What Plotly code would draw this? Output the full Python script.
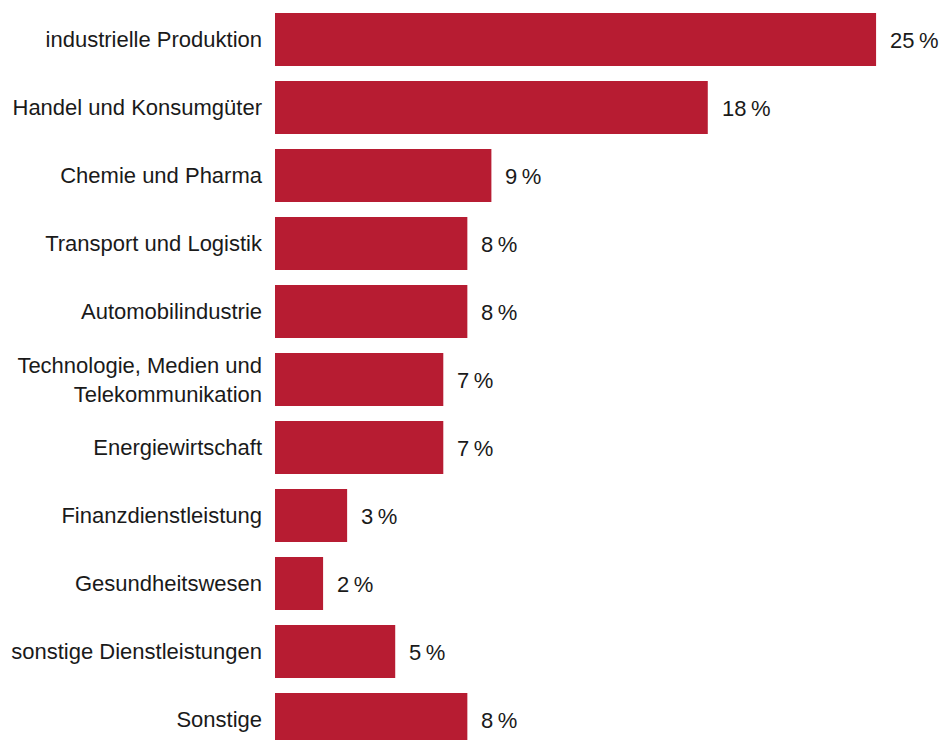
import plotly.graph_objects as go

# Branchenverteilung (Anteil in Prozent)
branchen = [
    "industrielle Produktion",
    "Handel und Konsumgüter",
    "Chemie und Pharma",
    "Transport und Logistik",
    "Automobilindustrie",
    "Technologie, Medien und<br>Telekommunikation",
    "Energiewirtschaft",
    "Finanzdienstleistung",
    "Gesundheitswesen",
    "sonstige Dienstleistungen",
    "Sonstige",
]
anteile = [25, 18, 9, 8, 8, 7, 7, 3, 2, 5, 8]
wert_labels = [f"{v}\u202f%" for v in anteile]

BAR_COLOR = "#B71C32"
TEXT_COLOR = "#1a1a1a"
FONT = "Liberation Sans, Arial, sans-serif"
FONT_SIZE = 22

fig = go.Figure(
    go.Bar(
        x=anteile,
        y=branchen,
        orientation="h",
        marker=dict(color=BAR_COLOR, line=dict(width=0)),
        hoverinfo="skip",
    )
)

for name, v, label in zip(branchen, anteile, wert_labels):
    fig.add_annotation(
        x=v, y=name, text=label, showarrow=False,
        xanchor="left", yanchor="middle", xshift=12, yshift=-1,
        font=dict(size=FONT_SIZE, color=TEXT_COLOR, family=FONT),
    )

fig.update_layout(
    width=941, height=740,
    margin=dict(l=275, r=0, t=0, b=0),
    paper_bgcolor="white", plot_bgcolor="white",
    bargap=0.22,
    showlegend=False,
    font=dict(family=FONT, size=FONT_SIZE, color=TEXT_COLOR),
)
fig.update_xaxes(range=[0, 27.7], visible=False, fixedrange=True)
fig.update_yaxes(
    range=[10.301, -0.581],
    showgrid=False, zeroline=False, showline=False,
    ticks="", ticklabelstandoff=12,
    tickfont=dict(size=FONT_SIZE, color=TEXT_COLOR, family=FONT),
    fixedrange=True,
)

fig.write_html("out.html", config={"displayModeBar": False})
